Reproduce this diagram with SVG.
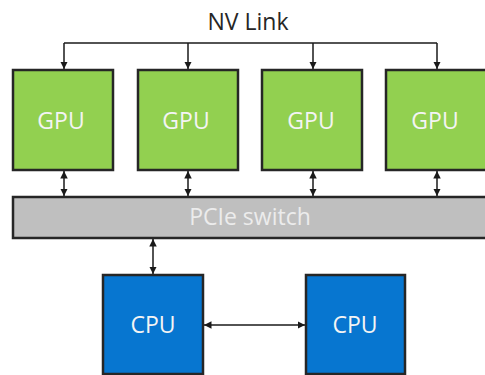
<svg xmlns="http://www.w3.org/2000/svg" width="485" height="375" viewBox="0 0 485 375">
<defs>
<marker id="ah" viewBox="0 0 10 10" refX="10" refY="5" markerWidth="5" markerHeight="5" orient="auto-start-reverse"><path d="M0,0 L10,5 L0,10 z" fill="#1a1a1a"/></marker>
</defs>
<style>
.gpu{fill:#92d050;stroke:#262626;stroke-width:2.5}
.cpu{fill:#0776d0;stroke:#262626;stroke-width:2.5}
.sw{fill:#bfbfbf;stroke:#262626;stroke-width:2.5}
.lbl{font-family:"Open Sans","Noto Sans",sans-serif;font-size:23px;fill:#f4f4f4;text-anchor:middle}
.title{font-family:"Open Sans","Noto Sans",sans-serif;font-size:23px;fill:#262626;text-anchor:middle}
.c{stroke:#1a1a1a;stroke-width:1.5;fill:none}
</style>
<rect width="485" height="375" fill="#fff"/>
<text class="title" x="248" y="30">NV Link</text>
<g id="gpu1"><rect class="gpu" x="13" y="70" width="100" height="100"/><text class="lbl" x="61" y="129">GPU</text></g>
<g id="gpu2"><rect class="gpu" x="138" y="70" width="100" height="100"/><text class="lbl" x="186" y="129">GPU</text></g>
<g id="gpu3"><rect class="gpu" x="262" y="70" width="100" height="100"/><text class="lbl" x="311" y="129">GPU</text></g>
<g id="gpu4"><rect class="gpu" x="386" y="70" width="101" height="100"/><text class="lbl" x="435" y="129">GPU</text></g>
<g id="pcie"><rect class="sw" x="13" y="197" width="476" height="41"/><text class="lbl" x="250" y="225" style="fill:#ececec">PCIe switch</text></g>
<g id="cpu1"><rect class="cpu" x="103" y="275" width="100" height="99"/><text class="lbl" x="153" y="333">CPU</text></g>
<g id="cpu2"><rect class="cpu" x="306" y="275" width="99" height="99"/><text class="lbl" x="355" y="333">CPU</text></g>
<g id="connectors">
<path class="c" d="M64,43 H437"/>
<path class="c" d="M64,43 V69" marker-end="url(#ah)"/>
<path class="c" d="M188,43 V69" marker-end="url(#ah)"/>
<path class="c" d="M313,43 V69" marker-end="url(#ah)"/>
<path class="c" d="M437,43 V69" marker-end="url(#ah)"/>
<path class="c" d="M64,171 V196" marker-start="url(#ah)" marker-end="url(#ah)"/>
<path class="c" d="M188,171 V196" marker-start="url(#ah)" marker-end="url(#ah)"/>
<path class="c" d="M313,171 V196" marker-start="url(#ah)" marker-end="url(#ah)"/>
<path class="c" d="M437,171 V196" marker-start="url(#ah)" marker-end="url(#ah)"/>
<path class="c" d="M153,239 V274" marker-start="url(#ah)" marker-end="url(#ah)"/>
<path class="c" d="M204,325 H305" marker-start="url(#ah)" marker-end="url(#ah)"/>
</g>
</svg>
